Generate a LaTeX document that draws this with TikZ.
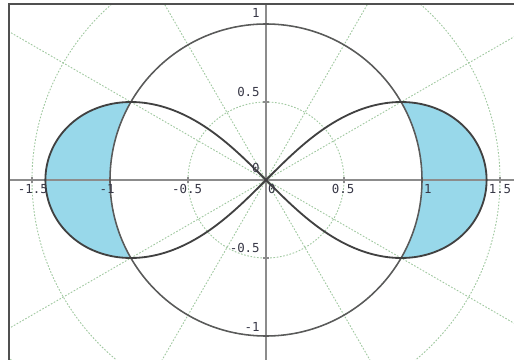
\documentclass[tikz,border=0pt]{standalone}
\usepackage{fontspec}
\newfontfamily\lblfont{DejaVu Sans Mono}
\definecolor{gridgreen}{RGB}{160,200,160}
\definecolor{axisgray}{RGB}{140,140,140}
\definecolor{curvegray}{RGB}{65,65,65}
\definecolor{circgray}{RGB}{90,90,90}
\definecolor{framegray}{RGB}{80,80,80}
\definecolor{lblcol}{RGB}{55,55,70}
\definecolor{fillblue}{RGB}{152,216,234}
\begin{document}
\begin{tikzpicture}[x=3cm,y=3cm,
  gridline/.style={draw=gridgreen, line width=0.5pt, dash pattern=on 0.9pt off 0.9pt},
  axisline/.style={draw=axisgray, line width=1.1pt},
  tickmark/.style={draw=axisgray, line width=0.7pt},
  curve/.style={draw=curvegray, line width=1pt},
  circ/.style={draw=circgray, line width=0.85pt},
  framebar/.style={draw=framegray, line width=1.1pt},
  lbl/.style={font=\lblfont\fontsize{6.8}{8}\selectfont, text=lblcol, inner sep=0pt}]
\useasboundingbox (-1.7051,-1.1538) rectangle (1.5897,1.1538);
% polar grid
\begin{scope}
  \clip (-1.647,-1.1538) rectangle (1.5897,1.128);
  \foreach \r in {0.5,1,1.5,2} \draw[gridline] (0,0) circle[radius=\r];
  \foreach \a in {30,60,120,150,210,240,300,330} \draw[gridline] (0,0) -- (\a:2.2);
\end{scope}
% shaded regions
\fill[fillblue] plot[domain=-30:30, samples=60, smooth] ({sqrt(2*cos(2*\x))*cos(\x)}, {sqrt(2*cos(2*\x))*sin(\x)}) arc[start angle=30, end angle=-30, radius=1] -- cycle;
\fill[fillblue] plot[domain=150:210, samples=60, smooth] ({sqrt(2*cos(2*\x))*cos(\x)}, {sqrt(2*cos(2*\x))*sin(\x)}) arc[start angle=210, end angle=150, radius=1] -- cycle;
% axes
\coordinate (xl) at (-1.647,0);
\coordinate (xr) at (1.5897,0);
\coordinate (yt) at (0,1.128);
\coordinate (yb) at (0,-1.1538);
\draw[axisline] (xl) -- (xr);
\draw[axisline] (yb) -- (yt);
\foreach \t in {-1.5,-1,-0.5,0.5,1,1.5} \draw[tickmark] (\t,-0.022) -- (\t,0.022);
\foreach \t in {-1,-0.5,0.5,1} \draw[tickmark] (-0.022,\t) -- (0.022,\t);
% curves
\draw[circ] (0,0) circle[radius=1];
\draw[curve] plot[domain=0:360, samples=241, smooth cycle] ({sqrt(2)*cos(\x)/(1+sin(\x)^2)}, {sqrt(2)*sin(\x)*cos(\x)/(1+sin(\x)^2)});
% labels
\node[lbl, anchor=north] (lxa) at (-1.494,-0.0256) {-1.5};
\node[lbl, anchor=north] (lxb) at (-1.019,-0.0256) {-1};
\node[lbl, anchor=north] (lxc) at (-0.506,-0.0256) {-0.5};
\node[lbl, anchor=north] (lxd) at (0.038,-0.0256) {0};
\node[lbl, anchor=north] (lxe) at (0.494,-0.0256) {0.5};
\node[lbl, anchor=north] (lxf) at (1.038,-0.0256) {1};
\node[lbl, anchor=north] (lxg) at (1.5,-0.0256) {1.5};
\node[lbl, anchor=south east] (lya) at (-0.038,1.038) {1};
\node[lbl, anchor=south east] (lyb) at (-0.038,0.532) {0.5};
\node[lbl, anchor=south east] (lyc) at (-0.038,0.045) {0};
\node[lbl, anchor=south east] (lyd) at (-0.038,-0.468) {-0.5};
\node[lbl, anchor=south east] (lye) at (-0.038,-0.974) {-1};
% frame
\coordinate (fl) at (-1.647,-1.1538);
\coordinate (fc) at (-1.647,1.128);
\coordinate (fr) at (1.5897,1.128);
\draw[framebar] (fl) -- (fc) -- (fr);
\end{tikzpicture}
\end{document}
